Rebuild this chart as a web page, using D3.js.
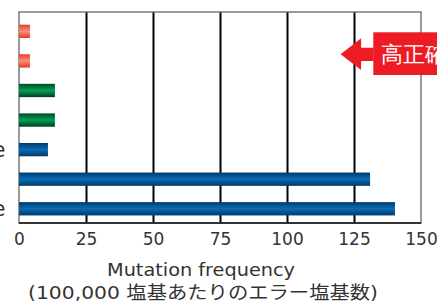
<!doctype html>
<html lang="ja">
<head>
<meta charset="UTF-8">
<title>Mutation frequency</title>
<style>
  html, body { margin: 0; padding: 0; background: #fff; }
  svg { display: block; }
  text { font-family: "DejaVu Sans", sans-serif; fill: #333; }
  .jp { font-family: "DejaVu Sans", "Noto Sans CJK JP", sans-serif; }
</style>
</head>
<body>
<svg id="chart" width="437" height="306"></svg>
<script src="https://cdn.jsdelivr.net/npm/d3@7"></script>
<script>
  // values
  const categories = ['a', 'b', 'c', 'd', 'e', 'f', 'g']
  const rowLabels = ['', '', '', '', 'Pfu type enzyme', '', 'Taq type enzyme']
  const values = [4.1, 4.1, 13.4, 13.4, 10.8, 131, 140.3]
  const groups = ['red', 'red', 'green', 'green', 'blue', 'blue', 'blue']
  const ticks = [0, 25, 50, 75, 100, 125, 150]

  const plotLeft = 19, plotRight = 421, plotTop = 12, plotBottom = 223

  const svg = d3.select('#chart')

  const x = d3.scaleLinear().domain([0, 150]).range([plotLeft, plotRight])
  const y = d3.scaleBand().domain(categories).range([15.8, 224.3])
    .paddingInner(0.55).paddingOuter(0.3)

  // gradients for the bars
  const grads = {
    red: ['#ee3a2c', '#f8907a', '#e83426'],
    green: ['#004a26', '#00a055', '#003c1e'],
    blue: ['#003b6c', '#0a6cb4', '#00396a']
  }
  const defs = svg.append('defs')
  Object.keys(grads).forEach(k => {
    const g = defs.append('linearGradient').attr('id', 'g-' + k)
      .attr('x1', 0).attr('y1', 0).attr('x2', 0).attr('y2', 1)
    g.append('stop').attr('offset', 0).attr('stop-color', grads[k][0])
    g.append('stop').attr('offset', 0.5).attr('stop-color', grads[k][1])
    g.append('stop').attr('offset', 1).attr('stop-color', grads[k][2])
  })

  // grid lines
  svg.append('g')
    .attr('transform', `translate(0,${plotBottom})`)
    .call(d3.axisBottom(x).tickValues(ticks.slice(1, -1)).tickSize(-(plotBottom - plotTop)).tickFormat(''))
    .call(g => g.select('.domain').remove())
    .call(g => g.selectAll('line').attr('stroke', '#000').attr('stroke-width', 2))

  // frame
  svg.append('rect')
    .attr('x', plotLeft).attr('y', plotTop)
    .attr('width', plotRight - plotLeft).attr('height', plotBottom - plotTop)
    .attr('fill', 'none').attr('stroke', '#666').attr('stroke-width', 1.3)
  svg.append('line')
    .attr('x1', plotLeft).attr('x2', plotRight).attr('y1', plotBottom).attr('y2', plotBottom)
    .attr('stroke', '#111').attr('stroke-width', 1.5)

  // bars
  svg.append('g').selectAll('rect')
    .data(categories)
    .join('rect')
    .attr('x', x(0))
    .attr('y', d => y(d))
    .attr('height', y.bandwidth())
    .attr('width', (d, i) => x(values[i]) - x(0))
    .attr('fill', (d, i) => `url(#g-${groups[i]})`)

  // row labels (mostly outside the visible area)
  svg.append('g').selectAll('text')
    .data(categories)
    .join('text')
    .attr('x', 5.5)
    .attr('y', d => y(d) + y.bandwidth() / 2)
    .attr('dy', '0.36em')
    .attr('text-anchor', 'end')
    .attr('font-size', 21)
    .text((d, i) => rowLabels[i])

  // x tick labels
  svg.append('g')
    .attr('transform', `translate(0,${plotBottom})`)
    .call(d3.axisBottom(x).tickValues(ticks).tickSize(0).tickPadding(10))
    .call(g => g.select('.domain').remove())
    .call(g => g.selectAll('text').attr('font-size', 17).attr('font-family', '"DejaVu Sans", sans-serif').attr('fill', '#333'))

  // axis title
  svg.append('text')
    .attr('x', 201).attr('y', 276)
    .attr('text-anchor', 'middle')
    .attr('font-size', 18)
    .attr('textLength', 188).attr('lengthAdjust', 'spacingAndGlyphs')
    .text('Mutation frequency')
  svg.append('text')
    .attr('class', 'jp')
    .attr('x', 203).attr('y', 299)
    .attr('text-anchor', 'middle')
    .attr('font-size', 18)
    .attr('textLength', 350).attr('lengthAdjust', 'spacingAndGlyphs')
    .text('(100,000 塩基あたりのエラー塩基数)')

  // red arrow callout
  const tipX = x(120), tipY = 54.3
  const ann = svg.append('g')
  ann.append('path')
    .attr('d', `M${tipX},${tipY} L${tipX + 20.5},${tipY - 16} L${tipX + 20.5},${tipY - 6.6} L${tipX + 33},${tipY - 6.6} L${tipX + 33},${tipY + 6.6} L${tipX + 20.5},${tipY + 6.6} L${tipX + 20.5},${tipY + 15.7} Z`)
    .attr('fill', '#ed1c24')
  ann.append('rect')
    .attr('x', tipX + 32.7).attr('y', 32.3)
    .attr('width', 80).attr('height', 42.7)
    .attr('fill', '#ed1c24')
  ann.append('text')
    .attr('x', tipX + 40.5).attr('y', 62)
    .attr('font-family', '"Noto Sans CJK JP", sans-serif')
    .attr('font-size', 22)
    .style('fill', '#fff')
    .text('高正確性')
</script>
</body>
</html>
